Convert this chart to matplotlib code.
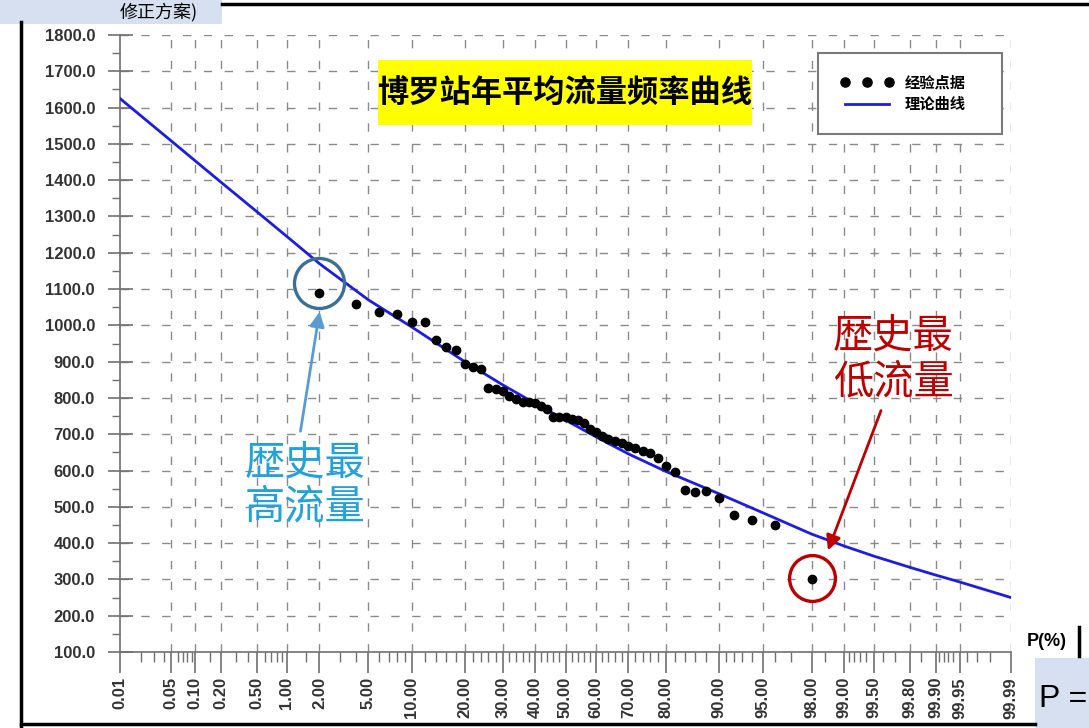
import numpy as np
import matplotlib
matplotlib.use('Agg')
import matplotlib.pyplot as plt
from matplotlib.lines import Line2D
from matplotlib.patches import Rectangle
from statistics import NormalDist

W, H = 1089, 728

# empirical frequency points: exceedance probability (%) and annual mean flow
obs_p = [2, 4, 6, 8, 10, 12, 14, 16, 18, 20, 22, 24, 26, 28, 30, 32, 34, 36, 38, 40,
         42, 44, 46, 48, 50, 52, 54, 56, 58, 60, 62, 64, 66, 68, 70, 72, 74, 76, 78, 80,
         82, 84, 86, 88, 90, 92, 94, 96, 98]
obs_q = [1090, 1060, 1038, 1032, 1010, 1008, 961, 939, 933, 894, 885, 880, 828, 825, 820,
         805, 798, 790, 790, 787, 779, 770, 748, 748, 748, 743, 738, 730, 715, 705, 695,
         688, 680, 675, 668, 663, 655, 648, 635, 613, 597, 547, 541, 544, 525, 478, 464,
         450, 300]

# theoretical curve read at the grid probabilities
curve_p = [0.01, 0.05, 0.1, 0.2, 0.5, 1, 2, 5, 10, 20, 30, 40, 50, 60, 70, 80, 90,
           95, 98, 99, 99.5, 99.8, 99.9, 99.95, 99.99]
curve_q = [1625, 1508, 1453, 1395, 1313, 1245, 1170, 1070, 995, 900, 836, 785, 739,
           693, 646, 597, 536, 484, 425, 392, 364, 333, 312, 293, 250]

tick_p = curve_p
tick_labels = ['0.01', '0.05', '0.10', '0.20', '0.50', '1.00', '2.00', '5.00', '10.00',
               '20.00', '30.00', '40.00', '50.00', '60.00', '70.00', '80.00', '90.00',
               '95.00', '98.00', '99.00', '99.50', '99.80', '99.90', '99.95', '99.99']
minor_low = [0.02, 0.03, 0.04, 0.06, 0.07, 0.08, 0.09, 0.15, 0.3, 0.4, 0.6, 0.7, 0.8,
             0.9, 1.5, 3, 4, 6, 7, 8, 9, 12, 14, 16, 18, 22, 24, 26, 28, 32, 34, 36, 38,
             42, 44, 46, 48]
minor_p = minor_low + [100 - v for v in minor_low]

plt.rcParams['font.family'] = ['Liberation Sans', 'Noto Sans CJK SC', 'DejaVu Sans']
cjk = ['Noto Sans CJK SC', 'DejaVu Sans']

nd = NormalDist()


def to_z(p):
    p = np.clip(np.asarray(p, dtype=float), 1e-4, 100 - 1e-4)
    return np.vectorize(lambda v: nd.inv_cdf(v / 100.0), otypes=[float])(p)


def to_p(z):
    z = np.clip(np.asarray(z, dtype=float), -8, 8)
    return np.vectorize(lambda v: nd.cdf(v) * 100.0, otypes=[float])(z)


def fx(x):
    return x / W


def fy(y):
    return 1 - y / H


fig = plt.figure(figsize=(W / 100, H / 100), dpi=100)
fig.patch.set_facecolor('white')
ax = fig.add_axes([fx(120), fy(652), (1011 - 120) / W, (652 - 35) / H])
ax.set_xscale('function', functions=(to_z, to_p))
ax.set_xlim(0.01, 99.99)
ax.set_ylim(100, 1800)

# grid
grid_kw = dict(color='#8a8a8a', lw=1.0, linestyle=(0, (6, 9)), zorder=1)
for p in tick_p[1:]:
    ax.axvline(p, **grid_kw)
for q in range(200, 1801, 100):
    ax.axhline(q, **grid_kw)

ax.plot(curve_p, curve_q, color='#1c1ce6', lw=2.0, zorder=3, label='理论曲线')
ax.plot(obs_p, obs_q, 'o', color='black', ms=6, zorder=4, label='经验点据')

# ticks
ax.set_xticks(tick_p)
ax.set_xticklabels(tick_labels, rotation=90)
ax.set_xticks(minor_p, minor=True)
ax.set_yticks(range(100, 1801, 100))
ax.set_yticklabels([f'{v:.1f}' for v in range(100, 1801, 100)])
ax.set_yticks(range(150, 1800, 100), minor=True)
ax.tick_params(axis='x', which='major', direction='out', length=15, width=1.2,
               color='#707070', pad=3)
ax.tick_params(axis='x', which='minor', direction='out', length=7, width=1.0,
               color='#707070')
ax.tick_params(axis='y', which='major', direction='inout', length=18, width=1.2,
               color='#707070', pad=9)
ax.tick_params(axis='y', which='minor', direction='out', length=6, width=1.0,
               color='#707070')
for lab in ax.get_xticklabels() + ax.get_yticklabels():
    lab.set_fontweight('bold')
    lab.set_fontsize(12)
    lab.set_color('#333333')
for s in ['top', 'right']:
    ax.spines[s].set_visible(False)
for s in ['left', 'bottom']:
    ax.spines[s].set_color('#707070')
    ax.spines[s].set_linewidth(1.2)

# legend
handles, labels = ax.get_legend_handles_labels()
leg = ax.legend(handles[::-1], labels[::-1], loc='upper left',
                bbox_to_anchor=(0.775, 0.846, 0.224, 0.138), mode='expand',
                numpoints=3, markerscale=1.1, handlelength=3.5, handletextpad=0.7,
                borderpad=1.45, labelspacing=0.35, fancybox=False, framealpha=1,
                prop=dict(family=cjk, weight='bold', size=11))
leg.get_frame().set_edgecolor('#7a7a7a')
leg.get_frame().set_linewidth(1.5)

# title in yellow box
fig.add_artist(Rectangle((fx(378), fy(125)), (752 - 378) / W, (125 - 60) / H,
                         transform=fig.transFigure, facecolor='#ffff00',
                         edgecolor='none', zorder=5))
fig.text(fx(565), fy(93), '博罗站年平均流量频率曲线', ha='center', va='center',
         fontsize=22.5, fontweight='bold', family=cjk, color='black', zorder=6)

# highlight circles
ax.plot([2], [1118], 'o', ms=36, mfc='none', mec='#3b6e98', mew=2.4, zorder=5)
ax.plot([98], [304], 'o', ms=33, mfc='none', mec='#c00000', mew=2.4, zorder=5)

# annotations
ax.annotate('', xy=(fx(320), fy(309)), xycoords='figure fraction',
            xytext=(fx(300), fy(434)), textcoords='figure fraction',
            arrowprops=dict(arrowstyle='-|>', color='#5b9bd5', lw=2.0,
                            mutation_scale=22), zorder=6)
ax.annotate('', xy=(fx(827), fy(553)), xycoords='figure fraction',
            xytext=(fx(882), fy(408)), textcoords='figure fraction',
            arrowprops=dict(arrowstyle='-|>', color='#c00000', lw=2.0,
                            mutation_scale=22), zorder=6)
fig.text(fx(305), fy(485), '歴史最\n高流量', ha='center', va='center', fontsize=29,
         family=cjk, color='#22a2dc', linespacing=1.1)
fig.text(fx(893), fy(359), '歴史最\n低流量', ha='center', va='center', fontsize=29,
         family=cjk, color='#c00000', linespacing=1.15)

fig.text(fx(1027), fy(641), 'P(%)', ha='left', va='center', fontsize=13,
         fontweight='bold', color='black')

# slide frame pieces
frame_kw = dict(transform=fig.transFigure, color='black', lw=2.5)
fig.add_artist(Line2D([fx(21), fx(21)], [fy(22), fy(728)], **frame_kw))
fig.add_artist(Line2D([fx(21), fx(1035)], [fy(724), fy(724)], **frame_kw))
fig.add_artist(Line2D([fx(222), fx(1089)], [fy(4), fy(4)], **frame_kw))
fig.add_artist(Line2D([fx(1079), fx(1079)], [fy(627), fy(656)], **frame_kw))

fig.add_artist(Rectangle((0, fy(24)), 222 / W, 24 / H, transform=fig.transFigure,
                         facecolor='#d6e0f0', edgecolor='none'))
fig.text(fx(198), fy(12), '修正方案)', ha='right', va='center', fontsize=13,
         family=cjk, color='black')
fig.add_artist(Rectangle((fx(1035), 0), (W - 1035) / W, (H - 658) / H,
                         transform=fig.transFigure, facecolor='#d6e0f0',
                         edgecolor='none'))
fig.text(fx(1039), fy(707), 'P =', ha='left', va='baseline', fontsize=23,
         color='black')

fig.savefig('out.png', dpi=100)
